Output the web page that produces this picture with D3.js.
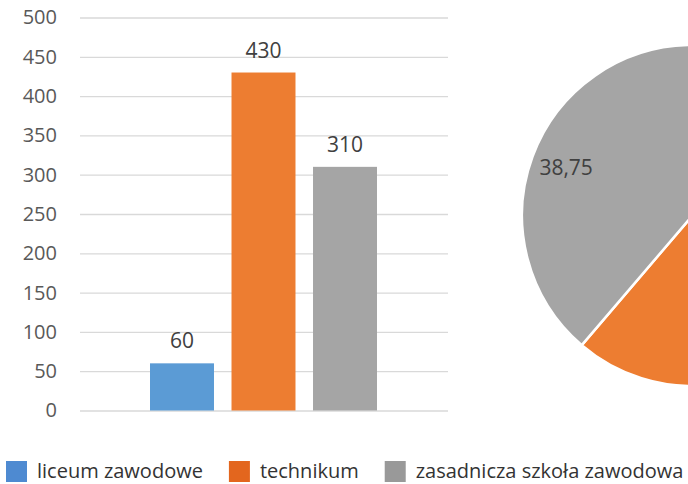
<!DOCTYPE html>
<html>
<head>
<meta charset="utf-8">
<script src="https://cdn.jsdelivr.net/npm/d3@7"></script>
<style>
  body { margin: 0; background: #fff; }
  svg { display: block; font-family: "Open Sans", sans-serif; }
</style>
</head>
<body>
<svg id="chart" width="688" height="484"></svg>
<script>
// dane
var series = ['liceum zawodowe', 'technikum', 'zasadnicza szkoła zawodowa'];
var counts = [60, 430, 310];
var shares = [7.5, 53.75, 38.75];
var yTicks = [0, 50, 100, 150, 200, 250, 300, 350, 400, 450, 500];

var barColors = ['#5b9bd5', '#ed7d31', '#a5a5a5'];
var legendColors = ['#4e8ad1', '#e3661e', '#999999'];

var svg = d3.select('#chart');

// --- wykres słupkowy ---
var plot = { left: 80, right: 448, top: 17.5, bottom: 410.5 };

var y = d3.scaleLinear().domain([0, 500]).range([plot.bottom, plot.top]);
var x = d3.scaleBand().domain(series).range([150, 377]).paddingInner(0.215);

var yAxis = svg.append('g')
	.attr('transform', 'translate(' + plot.left + ',0)')
	.call(d3.axisLeft(y).tickValues(yTicks)
		.tickSize(-(plot.right - plot.left)).tickPadding(23));

yAxis.select('.domain').remove();
yAxis.selectAll('.tick line').attr('stroke', '#d9d9d9').attr('stroke-width', 1.3);
yAxis.selectAll('.tick text')
	.attr('fill', '#595959')
	.style('font-size', '20px')
	.style('font-family', '"Open Sans", sans-serif');

svg.selectAll('rect.bar')
	.data(counts)
	.enter()
	.append('rect')
		.attr('class', 'bar')
		.attr('x', function (d, i) { return x(series[i]); })
		.attr('y', function (d) { return y(d); })
		.attr('width', x.bandwidth())
		.attr('height', function (d) { return y(0) - y(d); })
		.attr('fill', function (d, i) { return barColors[i]; });

svg.selectAll('text.val')
	.data(counts)
	.enter()
	.append('text')
		.attr('class', 'val')
		.attr('x', function (d, i) { return x(series[i]) + x.bandwidth() / 2; })
		.attr('y', function (d) { return y(d) - 15; })
		.attr('text-anchor', 'middle')
		.attr('fill', '#404040')
		.style('font-size', '21px')
		.text(function (d) { return d; });

// --- wykres kołowy ---
var cx = 692.5, cy = 215.5, r = 170.5;
var pie = d3.pie().sort(null);
var arc = d3.arc().innerRadius(0).outerRadius(r);
var labelArc = d3.arc().innerRadius(r * 0.79).outerRadius(r * 0.79);

var g = svg.append('g').attr('transform', 'translate(' + cx + ',' + cy + ')');

g.selectAll('path')
	.data(pie(shares))
	.enter()
	.append('path')
		.attr('d', arc)
		.attr('fill', function (d, i) { return barColors[i]; })
		.attr('stroke', '#fff')
		.attr('stroke-width', 2.5);

g.selectAll('text')
	.data(pie(shares))
	.enter()
	.append('text')
		.attr('transform', function (d) { return 'translate(' + labelArc.centroid(d) + ')'; })
		.attr('text-anchor', 'middle')
		.attr('dy', '0.3em')
		.attr('fill', '#404040')
		.style('font-size', '21px')
		.text(function (d) { return String(d.data).replace('.', ','); });

// --- legenda ---
var legend = svg.append('g').attr('class', 'legend');
var lx = 6;
series.forEach(function (s, i) {
	var item = legend.append('g').attr('transform', 'translate(' + lx + ',461)');
	item.append('rect')
		.attr('width', 21).attr('height', 21)
		.attr('fill', legendColors[i]);
	var t = item.append('text')
		.attr('x', 31).attr('y', 16.5)
		.attr('fill', '#333')
		.style('font-size', '20px')
		.text(s);
	lx += 31 + t.node().getComputedTextLength() + 26;
});
</script>
</body>
</html>
